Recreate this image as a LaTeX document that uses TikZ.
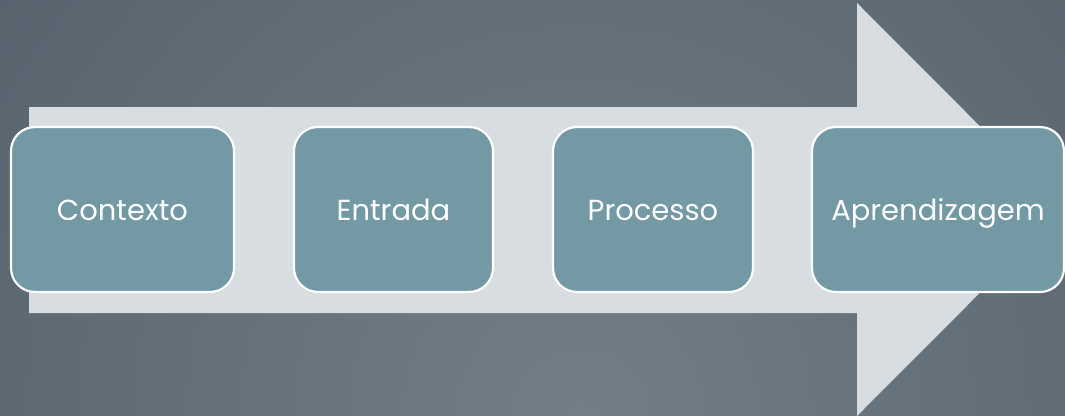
\documentclass[tikz,border=0pt]{standalone}
\usepackage{fontspec}
\setmainfont{Poppins}
\definecolor{bgin}{HTML}{737F88}
\definecolor{bgout}{HTML}{4A5661}
\definecolor{arrowfill}{HTML}{D7DDE0}
\definecolor{boxfill}{HTML}{7399A4}
\tikzset{
  stagebox/.style={draw=white, line width=2.2pt, fill=boxfill, rounded corners=24pt,
    inner sep=0pt, minimum height=165pt, text=white,
    text height=24pt, text depth=3pt,
    font=\fontsize{29}{34}\selectfont}
}
\begin{document}
\begin{tikzpicture}[x=1pt,y=-1pt]
\useasboundingbox (0,0) rectangle (1065,415);
\begin{scope}
\clip (0,0) rectangle (1065,415);
\shade[inner color=bgin, outer color=bgout] (580-1050,420-1050) rectangle (580+1050,420+1050);
\fill[arrowfill] (29,107) -- (857,107) -- (857,3) -- (1063,209.5) -- (857,416) -- (857,313) -- (29,313) -- cycle;
\node[stagebox, minimum width=223pt] (c) at (122.5,209.5) {Contexto};
\node[stagebox, minimum width=199pt] (e) at (393.5,209.5) {Entrada};
\node[stagebox, minimum width=200pt] (p) at (653,209.5) {Processo};
\node[stagebox, minimum width=252pt] (a) at (938,209.5) {Aprendizagem};
\end{scope}
\end{tikzpicture}
\end{document}
